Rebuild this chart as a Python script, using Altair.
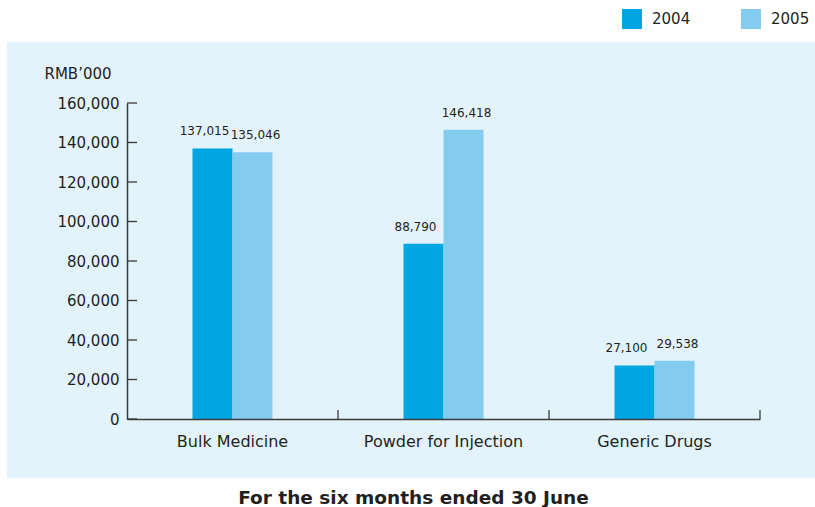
import altair as alt
import pandas as pd

categories = ["Bulk Medicine", "Powder for Injection", "Generic Drugs"]
years = ["2004", "2005"]
values_2004 = [137015, 88790, 27100]
values_2005 = [135046, 146418, 29538]
y_ticks = [0, 20000, 40000, 60000, 80000, 100000, 120000, 140000, 160000]

rows = []
for c, v4, v5 in zip(categories, values_2004, values_2005):
    rows.append({"category": c, "year": "2004", "value": v4})
    rows.append({"category": c, "year": "2005", "value": v5})
df = pd.DataFrame(rows)

W, H = 633, 316
TXT = "#231f20"
AX = "#3a3a3a"
colors = ["#00a6e2", "#84cbf0"]

yscale = alt.Scale(domain=[0, 160000], nice=False)
xscale = alt.Scale(domain=categories, paddingInner=0, paddingOuter=0)
offscale = alt.Scale(domain=years, paddingInner=0, paddingOuter=0, range=[65.5, 145.5])

panel = alt.Chart(pd.DataFrame({"a": [0]})).mark_rect(color="#e3f3fb").encode(
    x=alt.value(-120), x2=alt.value(688), y=alt.value(-61), y2=alt.value(375)
)

xaxis = alt.Axis(title=None, ticks=False, labelFontSize=16, labelColor=TXT,
                 labelPadding=14, domainColor=AX, domainWidth=1.5, labelAngle=0,
                 zindex=1)
yaxis = alt.Axis(values=y_ticks, format=",d", ticks=False, labelPadding=8,
                 labelFontSize=15, labelColor=TXT, domainColor=AX, domainWidth=1.5,
                 labelOverlap=False, labelFlush=False,
                 grid=False, title="RMB’000", titleAngle=0, titleAlign="left",
                 titleBaseline="middle", titleX=-83, titleY=-30,
                 titleFontWeight="normal", titleFontSize=15, titleColor=TXT,
                 zindex=1)

X = lambda **kw: alt.X("category:N", sort=categories, scale=xscale, axis=xaxis, **kw)
Y = lambda: alt.Y("value:Q", scale=yscale, axis=yaxis)

bars = alt.Chart(df).mark_bar().encode(
    x=X(),
    xOffset=alt.XOffset("year:N", sort=years, scale=offscale),
    y=Y(),
    color=alt.Color("year:N", scale=alt.Scale(domain=years, range=colors),
                    legend=alt.Legend(title=None, orient="none", legendX=495,
                                      legendY=-94, direction="horizontal",
                                      symbolType="square", symbolSize=400,
                                      symbolStrokeWidth=0, labelFontSize=15,
                                      labelColor=TXT, columnPadding=50,
                                      labelOffset=10)),
)

def labels(year, dx):
    return alt.Chart(df).transform_filter(alt.datum.year == year).mark_text(
        baseline="bottom", dy=-10, dx=dx, fontSize=12, color=TXT
    ).encode(
        x=X(),
        xOffset=alt.XOffset("year:N", sort=years, scale=offscale),
        y=Y(),
        text=alt.Text("value:Q", format=","),
    )

ytick_df = pd.DataFrame({"value": y_ticks})
yticks = alt.Chart(ytick_df).mark_rule(color=AX, strokeWidth=1.3).encode(
    y=Y(), x=alt.value(0), x2=alt.value(10)
)

xtick_df = pd.DataFrame({"category": categories})
xticks = alt.Chart(xtick_df).mark_rule(color=AX, strokeWidth=1.3).encode(
    x=X(bandPosition=1),
    y=alt.value(H), y2=alt.value(H - 9)
)

chart = alt.layer(panel, bars, labels("2004", -8), labels("2005", 3), yticks, xticks).properties(
    width=W, height=H,
    autosize=alt.AutoSizeParams(type="none"),
    padding={"left": 127, "top": 103, "right": 55, "bottom": 88},
    background="white",
    title=alt.TitleParams("For the six months ended 30 June", orient="bottom",
                          fontSize=18.5, fontWeight="bold", color=TXT, dx=-30,
                          offset=11, anchor="middle"),
).configure(font="DejaVu Sans").configure_view(stroke=None)

chart.save("out.html", embed_options={"renderer": "svg", "actions": False})
